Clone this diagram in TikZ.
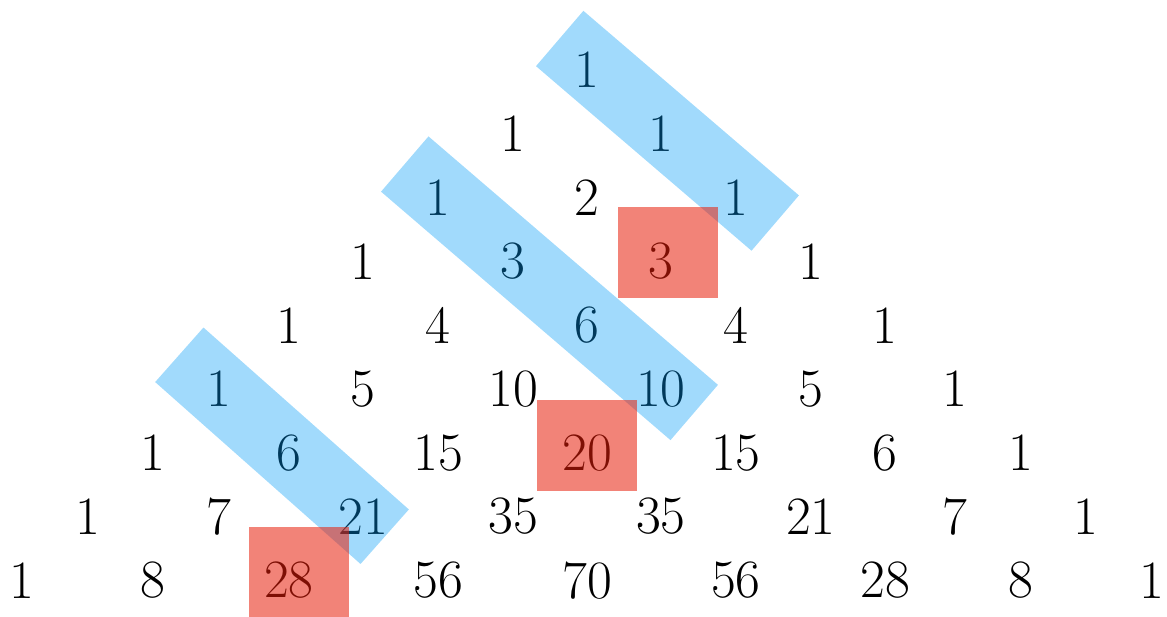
\documentclass[tikz,border=0pt]{standalone}
\usepackage{fontspec}
\definecolor{bandblue}{RGB}{0,155,247}
\definecolor{boxred}{RGB}{231,29,9}
% column positions (cm) of the 17 columns of the triangle
\def\colx{{-9.929,-8.774,-7.627,-6.467,-5.237,-3.936,-2.618,-1.300,0,1.300,2.618,3.936,5.237,6.467,7.627,8.774,9.929}}
\begin{document}
\begin{tikzpicture}[
  num/.style={inner sep=0pt, font=\fontsize{27}{32}\selectfont},
  band/.style={draw=bandblue, draw opacity=0.37, line width=1.28cm,
    line cap=rect, shorten <=-#1, shorten >=-#1},
  band/.default=0.13cm,
  hlbox/.style={fill=boxred, fill opacity=0.55, minimum width=1.757cm,
    minimum height=1.599cm, inner sep=0pt}
]
\useasboundingbox (-10.315,1.230) rectangle (10.192,-9.612);
% Pascal triangle
\foreach \row/\vals in {0/{1}, 1/{1,1}, 2/{1,2,1}, 3/{1,3,3,1}, 4/{1,4,6,4,1},
    5/{1,5,10,10,5,1}, 6/{1,6,15,20,15,6,1}, 7/{1,7,21,35,35,21,7,1},
    8/{1,8,28,56,70,56,28,8,1}} {
  \foreach \v [count=\i from 0] in \vals {
    \pgfmathtruncatemacro\c{8+2*\i-\row}
    \pgfmathsetmacro\xx{\colx[\c]}
    \node[num] (n-\row-\i) at (\xx,-1.121*\row) {\v};
  }
}
% hockey sticks
\draw[band] ([shift={(0.105,0.053)}]n-0-0.center) -- ([shift={(0.105,0.053)}]n-2-2.center);
\draw[band] ([shift={(0,0.088)}]n-2-0.center) -- ([shift={(0,0.088)}]n-5-3.center);
\draw[band=0.08cm] ([shift={(-0.158,0.123)}]n-5-0.center) -- ([shift={(-0.158,0.123)}]n-7-2.center);
\node[hlbox, xshift=0.123cm, yshift=0.149cm] (hl-3) at (n-3-2) {};
\node[hlbox, yshift=0.123cm] (hl-20) at (n-6-3) {};
\node[hlbox, xshift=0.176cm, yshift=0.132cm] (hl-28) at (n-8-2) {};
\end{tikzpicture}
\end{document}
